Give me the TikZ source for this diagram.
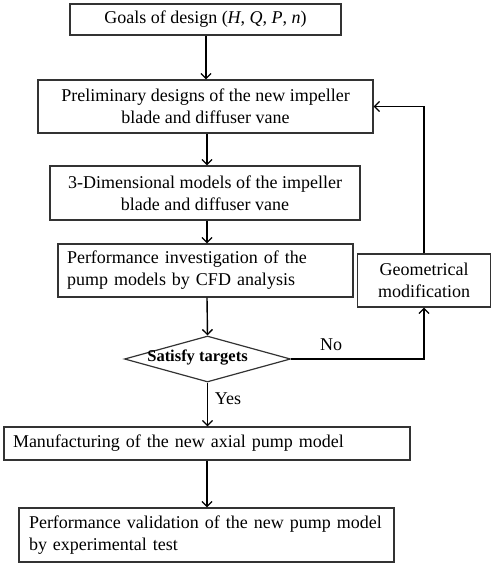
\documentclass[tikz,border=0pt]{standalone}
\usepackage{fontspec}
\setmainfont{Liberation Serif}
\usetikzlibrary{arrows.meta,shapes.geometric}
\begin{document}
\begin{tikzpicture}[x=1pt,y=-1pt,
  box/.style={draw=black!80,line width=1.2pt,rectangle,inner sep=0pt,font=\fontsize{18}{22}\selectfont},
  arr/.style={line width=1.4pt,-{Straight Barb[length=5pt,width=10pt,line width=1.3pt]}},
  lbl/.style={font=\fontsize{18}{22}\selectfont,inner sep=0pt}]
\useasboundingbox (0,0) rectangle (497,569);
\node[box,minimum width=271pt,minimum height=31pt] (goal) at (205.5,19.5) {Goals of design (\textit{H}, \textit{Q}, \textit{P}, \textit{n})};
\node[box,minimum width=335pt,minimum height=53pt,align=center] (pre) at (205.5,106.5) {Preliminary designs of the new\ impeller\\blade\ and\ diffuser vane};
\node[box,minimum width=310pt,minimum height=54pt,align=center] (three) at (205,193) {3-Dimensional models of the impeller\\blade\ and\ diffuser vane};
\node[box,minimum width=295pt,minimum height=53pt,text width=277pt,align=left,inner xsep=9pt] (perf) at (205.5,270.5) {Performance investigation\ of the\\pump\ models by\ CFD\ analysis};
\node[box,minimum width=133pt,minimum height=53pt,align=center] (geo) at (424,280.5) {Geometrical\\modification};
\node[draw=black!80,line width=1.2pt,diamond,aspect=3.6,minimum width=166pt,minimum height=46pt,inner sep=0pt] (dec) at (207.5,359) {};
\node[font=\fontsize{16.5}{20}\selectfont\bfseries,inner sep=0pt] (dect) at (197.5,358) {Satisfy targets};
\node[box,minimum width=406pt,minimum height=33pt,text width=388pt,align=left,inner xsep=9pt] (man) at (207,443.5) {Manufacturing\ of the new\ axial\ pump\ model};
\node[box,minimum width=375pt,minimum height=54pt,text width=355pt,align=left,inner xsep=10pt] (val) at (206.5,535) {Performance validation\ of the new\ pump\ model\\by\ experimental test};
\node[lbl] (no) at (331,345) {No};
\node[lbl] (yes) at (228,399) {Yes};
\draw[arr] (goal.south -| 206,0) -- (pre.north -| 206,0);
\draw[arr] (pre.south -| 207,0) -- (three.north -| 207,0);
\draw[arr] (three.south -| 207,0) -- (perf.north -| 207,0);
\draw[arr] (perf.south -| 207,0) -- (dec.north);
\draw[arr] (dec.south) -- (man.north -| dec.south);
\draw[arr] (man.south -| 207,0) -- (val.north -| 207,0);
\draw[arr] (dec.east) -| (geo.south);
\draw[arr] (geo.north) |- (pre.east);
\end{tikzpicture}
\end{document}
